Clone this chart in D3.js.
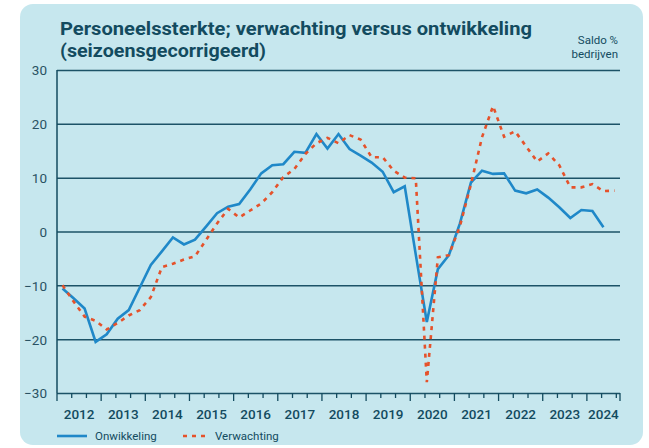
<!DOCTYPE html>
<html>
<head>
<meta charset="utf-8">
<script src="https://cdn.jsdelivr.net/npm/d3@7"></script>
<style>
  body { margin: 0; background: #fff; }
  text { font-family: Roboto, "Noto Sans", sans-serif; }
</style>
</head>
<body>
<script>
var width = 649,
    height = 448;

// kwartaalcijfers, eerste punt = 2012 K1
var startYear = 2012;
var ontwikkeling = [-10.6, -12.4, -14.3, -20.5, -19.1, -16.2, -14.6, -10.4, -6.2, -3.7,
                    -1.1, -2.4, -1.5, 0.9, 3.4, 4.6, 5.1, 7.8, 10.8, 12.3,
                    12.5, 14.8, 14.6, 18.1, 15.4, 18.1, 15.3, 14.1, 12.8, 11.1,
                    7.3, 8.4, -4.3, -16.8, -7.0, -4.4, 1.5, 9.1, 11.3, 10.7,
                    10.8, 7.6, 7.1, 7.8, 6.3, 4.5, 2.5, 4.0, 3.8, 0.8];
var verwachting = [-10.0, -13.0, -15.8, -16.6, -18.2, -17.0, -15.6, -14.6, -12.2, -6.6,
                   -6.0, -5.2, -4.6, -1.6, 1.5, 4.2, 2.6, 3.9, 5.2, 7.3,
                   10.1, 11.6, 14.4, 16.4, 17.4, 16.4, 17.9, 17.1, 13.8, 13.8,
                   11.3, 10.0, 9.9, -28.0, -4.8, -4.4, 1.0, 8.8, 17.5, 23.3,
                   17.6, 18.6, 15.8, 13.0, 14.5, 12.3, 8.2, 8.2, 8.8, 7.5, 7.6];
var years = [2012, 2013, 2014, 2015, 2016, 2017, 2018, 2019, 2020, 2021, 2022, 2023, 2024];
var yTicks = [-30, -20, -10, 0, 10, 20, 30];

var dark = "#134b5f",
    blue = "#1f88c8",
    orange = "#e5522b";

var svg = d3.select("body")
            .append("svg")
            .attr("width", width)
            .attr("height", height);

// kaart
svg.append("rect")
   .attr("x", 20).attr("y", 4)
   .attr("width", 623).attr("height", 441)
   .attr("rx", 13)
   .attr("fill", "#c6e7ee");

var x = d3.scaleLinear().domain([2012, 2024.75]).range([57, 620]),
    y = d3.scaleLinear().domain([-30, 30]).range([393, 70]);

// titel
var title = svg.append("g").attr("fill", dark).attr("font-weight", 700).attr("font-size", 19);
title.append("text").attr("x", 60).attr("y", 35)
     .attr("textLength", 472).attr("lengthAdjust", "spacingAndGlyphs")
     .text("Personeelssterkte; verwachting versus ontwikkeling");
title.append("text").attr("x", 60).attr("y", 57)
     .attr("textLength", 206).attr("lengthAdjust", "spacingAndGlyphs")
     .text("(seizoensgecorrigeerd)");

var unit = svg.append("g").attr("fill", dark).attr("font-size", 11.5).attr("text-anchor", "end");
unit.append("text").attr("x", 618).attr("y", 44).text("Saldo %");
unit.append("text").attr("x", 618).attr("y", 58).text("bedrijven");

// rasterlijnen + y-labels
var yAxis = svg.append("g")
   .attr("transform", "translate(57,0)")
   .call(d3.axisLeft(y).tickValues(yTicks).tickSize(-563).tickPadding(10));
yAxis.select(".domain").remove();
yAxis.selectAll("line").attr("stroke", dark).attr("stroke-width", 1.5).attr("stroke-opacity", 0.95);
yAxis.selectAll("text").attr("fill", "#2a5263").attr("font-size", 13.5)
     .attr("font-family", "Roboto, sans-serif").attr("dy", "0.36em");

svg.append("line")
   .attr("x1", 57).attr("x2", 57).attr("y1", y(30)).attr("y2", y(-30))
   .attr("stroke", dark).attr("stroke-width", 1.5);

// x-as met tickjes per jaar en per derde jaar
var minorTicks = d3.range(0, 13 * 3).map(function(i) { return 2012 + i / 3; })
                   .filter(function(v) { return v < 2024.75; });
var xAxis = svg.append("g")
   .attr("transform", "translate(0," + y(-30) + ")");
xAxis.selectAll("line.minor")
   .data(minorTicks.concat([2024.75]))
   .enter().append("line")
   .attr("x1", function(d) { return x(d); })
   .attr("x2", function(d) { return x(d); })
   .attr("y1", 0)
   .attr("y2", function(d, i) { return (i % 3 === 0 || d === 2024.75) ? 8 : 5; })
   .attr("stroke", dark).attr("stroke-width", 1.3);
xAxis.selectAll("text")
   .data(years)
   .enter().append("text")
   .attr("x", function(d) { return x(Math.min(d + 0.5, (d + 2024.75) / 2)); })
   .attr("y", 26)
   .attr("text-anchor", "middle")
   .attr("fill", dark)
   .attr("font-size", 13.5)
   .attr("font-weight", 500)
   .text(function(d) { return d; });

// lijnen
function quarterX(d, i) { return x(startYear + (i + 0.5) / 4); }
var line = d3.line().x(quarterX).y(function(d) { return y(d); });

svg.append("path")
   .attr("d", line(ontwikkeling))
   .attr("fill", "none")
   .attr("stroke", blue)
   .attr("stroke-width", 2.6)
   .attr("stroke-linejoin", "miter");

svg.append("path")
   .attr("d", line(verwachting))
   .attr("fill", "none")
   .attr("stroke", orange)
   .attr("stroke-width", 2.6)
   .attr("stroke-dasharray", "4,5");

// legenda
var legend = svg.append("g").attr("font-size", 11.5).attr("fill", dark);
legend.append("line").attr("x1", 57).attr("x2", 87).attr("y1", 436).attr("y2", 436)
      .attr("stroke", blue).attr("stroke-width", 2.6);
legend.append("text").attr("x", 95).attr("y", 440).text("Onwikkeling");
legend.append("line").attr("x1", 183).attr("x2", 210).attr("y1", 436).attr("y2", 436)
      .attr("stroke", orange).attr("stroke-width", 2.6).attr("stroke-dasharray", "4,5");
legend.append("text").attr("x", 215).attr("y", 440).text("Verwachting");
</script>
</body>
</html>
